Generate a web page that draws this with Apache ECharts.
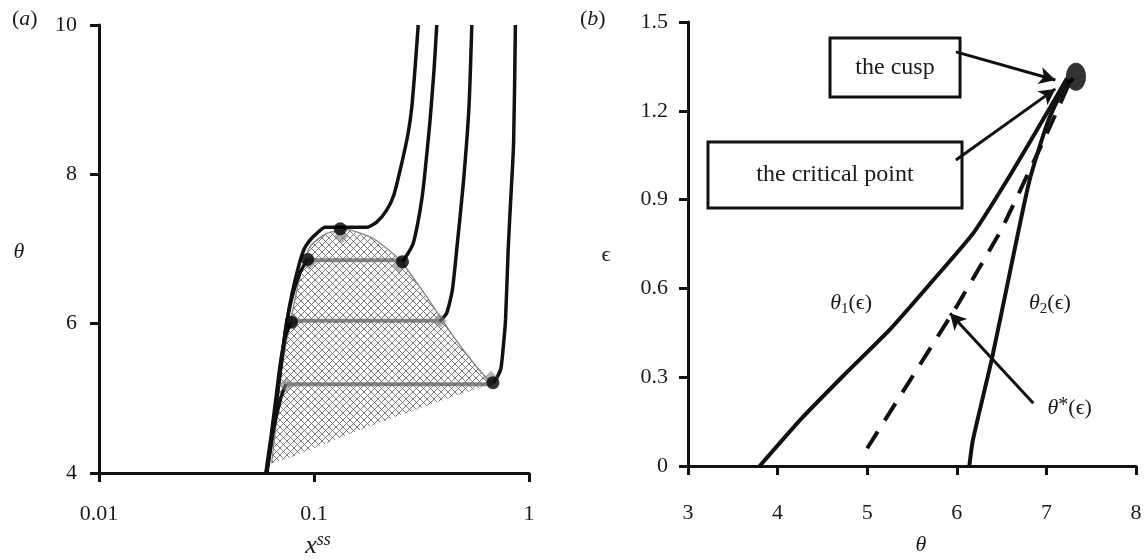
<!DOCTYPE html>
<html><head><meta charset="utf-8">
<script src="https://cdn.jsdelivr.net/npm/echarts@6/dist/echarts.min.js"></script>
<style>html,body{margin:0;padding:0;background:#fff}#c{width:1147px;height:560px}</style>
</head><body><div id="c"></div>
<script>
// ---------------- DATA ----------------
// Panel (a): x^ss (log) vs theta
const xTickLabelsA = ['0.01', '0.1', '1'];
const yTickLabelsA = ['4', '6', '8', '10'];

const curveA = [[0.0604,4.0],[0.0640,4.5],[0.0675,5.05],[0.0710,5.55],[0.0745,6.0],[0.0790,6.4],[0.0850,6.78],[0.0900,7.0],[0.0958,7.12],[0.1040,7.22],[0.1125,7.29],[0.1760,7.29],[0.1957,7.36],[0.2178,7.52],[0.2350,7.72],[0.2560,8.15],[0.2740,8.55],[0.2850,8.90],[0.2960,9.47],[0.3053,10.0]];
const curveBLeft = [[0.0600,4.0],[0.0636,4.5],[0.0670,5.0],[0.0705,5.5],[0.0740,5.95],[0.0790,6.35],[0.0860,6.68],[0.0934,6.86]];
const curveBRight = [[0.2580,6.83],[0.2750,6.95],[0.2897,7.08],[0.3040,7.35],[0.3170,7.66],[0.3258,7.94],[0.3450,8.66],[0.3613,9.38],[0.3724,10.0]];
const curveCLeft = [[0.0597,4.0],[0.0632,4.5],[0.0665,5.0],[0.0700,5.5],[0.0740,5.85],[0.0785,6.03]];
const curveCRight = [[0.3850,6.03],[0.4140,6.14],[0.4400,6.45],[0.4610,6.99],[0.4949,7.88],[0.5257,8.90],[0.5420,10.0]];
const curveDLeft = [[0.0602,4.0],[0.0645,4.55],[0.0700,5.0],[0.0740,5.19]];
const curveDRight = [[0.6800,5.21],[0.7100,5.28],[0.7400,5.40],[0.7600,5.70],[0.7780,6.06],[0.8000,6.99],[0.8200,7.60],[0.8480,8.42],[0.8645,10.0]];

const maxwell1 = [[0.0934,6.85],[0.2560,6.85]];
const maxwell2 = [[0.0790,6.04],[0.3850,6.04]];
const maxwell3 = [[0.0745,5.19],[0.6750,5.19]];

const blackDots = [[0.1325,7.27],[0.0934,6.86],[0.2580,6.83],[0.0785,6.02],[0.6800,5.21]];
const grayDiamonds = [[0.1340,7.17],[0.0950,6.82],[0.2500,6.78],[0.0800,6.04],[0.3830,6.04],[0.0745,5.18],[0.6650,5.27]];

const hatchUpper = [[0.0636,4.13],[0.0659,4.53],[0.0695,5.20],[0.0733,5.65],[0.0773,6.00],[0.0861,6.63],[0.0958,7.03],[0.1146,7.21],[0.1419,7.26],[0.1887,7.14],[0.2512,6.85],[0.3343,6.36],[0.4446,5.83],[0.5711,5.42],[0.6707,5.20]];
const hatchLower = [[0.5508,5.11],[0.3589,4.93],[0.2178,4.71],[0.1230,4.44],[0.0801,4.22]];

// Panel (b): theta vs epsilon
const xTickLabelsB = ['3', '4', '5', '6', '7', '8'];
const yTickLabelsB = ['0', '0.3', '0.6', '0.9', '1.2', '1.5'];

const theta1 = [[3.80,0.00],[4.25,0.155],[4.75,0.31],[5.25,0.46],[5.70,0.615],[6.18,0.785],[6.60,0.985],[7.02,1.20],[7.23,1.31]];
const theta2 = [[6.14,0.00],[6.18,0.088],[6.39,0.36],[6.60,0.665],[6.81,0.963],[7.02,1.166],[7.19,1.274],[7.30,1.31]];
const thetaStar = [[5.00,0.06],[5.50,0.30],[6.00,0.54],[6.50,0.80],[7.00,1.12],[7.28,1.31]];
const cusp = [[7.33,1.315]];

const cuspBox = [[4.585,1.446],[6.036,1.247]];
const criticalBox = [[3.223,1.095],[6.058,0.872]];
const cuspArrow = [[5.99,1.399],[7.10,1.304]];
const criticalArrow = [[5.99,1.034],[7.10,1.274]];
const starArrow = [[6.854,0.212],[5.924,0.516]];
const theta1LabelPos = [4.82,0.551];
const theta2LabelPos = [7.04,0.551];
const thetaStarLabelPos = [7.26,0.196];

// ---------------- CHART ----------------
const FONT = 'Liberation Serif, DejaVu Serif, serif';
const INK = '#111';

function hatchPattern() {
  const c = document.createElement('canvas'); c.width = 7; c.height = 7;
  const g = c.getContext('2d');
  g.strokeStyle = 'rgba(100,100,100,0.85)'; g.lineWidth = 1;
  g.beginPath(); g.moveTo(-1,-1); g.lineTo(8,8); g.moveTo(8,-1); g.lineTo(-1,8); g.stroke();
  return c;
}
const pattern = { image: hatchPattern(), repeat: 'repeat' };
const hatchPoly = hatchUpper.concat(hatchLower);

const axisCommon = {
  axisLine: { onZero: false, lineStyle: { color: INK, width: 3 } },
  axisTick: { length: 9, lineStyle: { color: INK, width: 3 } },
  splitLine: { show: false },
  minorTick: { show: false }
};
const lbl = (m) => ({ fontFamily: FONT, fontSize: 22, color: '#1a1a1a', margin: m });

function line(data, xi, extra) {
  return Object.assign({
    type: 'line', data: data, xAxisIndex: xi, yAxisIndex: xi,
    showSymbol: false, symbol: 'none', smooth: 0.2, silent: true,
    lineStyle: { color: INK, width: 3.5 }, z: 4
  }, extra || {});
}

const chart = echarts.init(document.getElementById('c'), null, { renderer: 'canvas' });
chart.setOption({
  animation: false,
  backgroundColor: '#fff',
  grid: [
    { left: 99, top: 25, width: 430, height: 448 },
    { left: 688, top: 22, width: 448, height: 444 }
  ],
  xAxis: [
    Object.assign({}, axisCommon, { type: 'log', logBase: 10, gridIndex: 0, min: 0.01, max: 1,
      axisLabel: Object.assign(lbl(30), { formatter: (v) => xTickLabelsA[Math.round(Math.log10(v)) + 2] }) }),
    Object.assign({}, axisCommon, { type: 'value', gridIndex: 1, min: 3, max: 8, interval: 1,
      axisLabel: Object.assign(lbl(36), { formatter: (v) => xTickLabelsB[Math.round(v - 3)] }) })
  ],
  yAxis: [
    Object.assign({}, axisCommon, { type: 'value', gridIndex: 0, min: 4, max: 10, interval: 2,
      axisLabel: Object.assign(lbl(22), { formatter: (v) => yTickLabelsA[Math.round((v - 4) / 2)] }) }),
    Object.assign({}, axisCommon, { type: 'value', gridIndex: 1, min: 0, max: 1.5, interval: 0.3,
      axisLabel: Object.assign(lbl(20), { formatter: (v) => yTickLabelsB[Math.round(v / 0.3)] }) })
  ],
  series: [
    {
      type: 'custom', xAxisIndex: 0, yAxisIndex: 0, silent: true, z: 1,
      data: [hatchPoly[0]],
      renderItem: function (params, api) {
        return {
          type: 'polygon',
          shape: { points: hatchPoly.map((p) => api.coord(p)) },
          style: { fill: pattern, stroke: null }
        };
      }
    },
    line(hatchUpper, 0, { lineStyle: { color: 'rgba(110,110,110,0.85)', width: 1.3 }, z: 2 }),
    line(maxwell1, 0, { smooth: false, lineStyle: { color: 'rgba(105,105,105,0.8)', width: 4 }, z: 3 }),
    line(maxwell2, 0, { smooth: false, lineStyle: { color: 'rgba(105,105,105,0.8)', width: 4 }, z: 3 }),
    line(maxwell3, 0, { smooth: false, lineStyle: { color: 'rgba(105,105,105,0.8)', width: 4 }, z: 3 }),
    line(curveA, 0),
    line(curveBLeft, 0), line(curveBRight, 0),
    line(curveCLeft, 0), line(curveCRight, 0),
    line(curveDLeft, 0), line(curveDRight, 0),
    { type: 'scatter', xAxisIndex: 0, yAxisIndex: 0, data: grayDiamonds, symbol: 'diamond', symbolSize: 15,
      itemStyle: { color: 'rgba(130,130,130,0.75)' }, silent: true, z: 5 },
    { type: 'scatter', xAxisIndex: 0, yAxisIndex: 0, data: blackDots, symbol: 'circle', symbolSize: 13,
      itemStyle: { color: '#000' }, silent: true, z: 6 },

    // panel (b)
    line(theta1, 1, {
      smooth: 0.15,
      lineStyle: { color: INK, width: 4 },
      markArea: {
        silent: true,
        itemStyle: { color: '#fff', borderColor: INK, borderWidth: 3 },
        label: { show: true, position: 'inside', fontFamily: FONT, fontSize: 24, color: '#1a1a1a' },
        data: [
          [{ coord: cuspBox[0], name: 'the cusp' }, { coord: cuspBox[1] }],
          [{ coord: criticalBox[0], name: 'the critical point' }, { coord: criticalBox[1] }]
        ]
      },
      markLine: {
        silent: true, symbol: ['none', 'arrow'], symbolSize: [13, 16],
        label: { show: false },
        lineStyle: { color: INK, width: 3, type: 'solid' },
        data: [
          [{ coord: cuspArrow[0] }, { coord: cuspArrow[1] }],
          [{ coord: criticalArrow[0] }, { coord: criticalArrow[1] }],
          [{ coord: starArrow[0] }, { coord: starArrow[1] }]
        ]
      }
    }),
    line(theta2, 1, { lineStyle: { color: INK, width: 4 } }),
    line(thetaStar, 1, { smooth: 0.1, lineStyle: { color: INK, width: 4, type: [20, 13] } }),
    { type: 'scatter', xAxisIndex: 1, yAxisIndex: 1, data: cusp, symbol: 'circle', symbolSize: [20, 28],
      itemStyle: { color: '#000' }, silent: true, z: 6 }
  ]
});

// ---------------- TEXT ANNOTATIONS ----------------
const rich = {
  n: { fontFamily: FONT, fontSize: 22, fill: '#1a1a1a' },
  i: { fontFamily: FONT, fontSize: 22, fontStyle: 'italic', fill: '#1a1a1a' },
  sub: { fontFamily: FONT, fontSize: 15, fill: '#1a1a1a', padding: [12, 0, 0, 0] },
  sup: { fontFamily: FONT, fontSize: 20, fill: '#1a1a1a', padding: [0, 0, 5, 0] },
  supi: { fontFamily: FONT, fontSize: 18, fontStyle: 'italic', fill: '#1a1a1a', padding: [0, 0, 12, 0] },
  big: { fontFamily: FONT, fontSize: 26, fontStyle: 'italic', fill: '#1a1a1a' }
};
function txt(x, y, text, align) {
  return { type: 'text', x: x, y: y, silent: true, z: 100,
    style: { text: text, rich: rich, align: align || 'center', verticalAlign: 'middle', fill: '#1a1a1a' } };
}
const p1 = chart.convertToPixel({ gridIndex: 1 }, theta1LabelPos);
const p2 = chart.convertToPixel({ gridIndex: 1 }, theta2LabelPos);
const p3 = chart.convertToPixel({ gridIndex: 1 }, thetaStarLabelPos);

chart.setOption({
  graphic: [
    txt(12, 19, '{n|(}{i|a}{n|)}', 'left'),
    txt(580, 19, '{n|(}{i|b}{n|)}', 'left'),
    txt(19, 252, '{i|θ}'),
    txt(318, 546, '{big|x}{supi|ss}'),
    txt(606, 255, '{n|ϵ}'),
    txt(921, 545, '{i|θ}'),
    txt(p1[0], p1[1], '{i|θ}{sub|1}{n|(ϵ)}'),
    txt(p2[0], p2[1], '{i|θ}{sub|2}{n|(ϵ)}'),
    txt(p3[0], p3[1], '{i|θ}{sup|*}{n|(ϵ)}')
  ]
});
</script>
</body></html>
